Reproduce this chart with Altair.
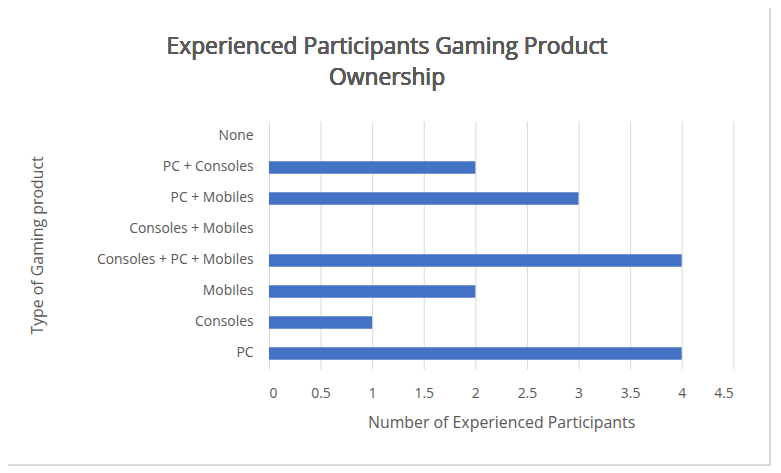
import altair as alt
import pandas as pd

categories = ["None", "PC + Consoles", "PC + Mobiles", "Consoles + Mobiles",
              "Consoles + PC + Mobiles", "Mobiles", "Consoles", "PC"]
counts = [0, 2, 3, 0, 4, 2, 1, 4]
title_lines = ["Experienced Participants Gaming Product", "Ownership"]

FONT = "Open Sans"
GREY = "#595959"

df = pd.DataFrame({"product": categories, "count": counts})

bars = alt.Chart(df).mark_bar(color="#4472C4").encode(
    x=alt.X("count:Q", scale=alt.Scale(domain=[0, 4.5], nice=False),
            axis=alt.Axis(title="Number of Experienced Participants", values=[0, 0.5, 1, 1.5, 2, 2.5, 3, 3.5, 4, 4.5],
                          format="~g", ticks=False, domain=False, gridColor="#d9d9d9",
                          labelPadding=18, titlePadding=14)),
    y=alt.Y("product:N", sort=categories,
            scale=alt.Scale(paddingInner=0.6, paddingOuter=0.3),
            axis=alt.Axis(title="Type of Gaming product", ticks=False, domain=False,
                          labelPadding=16, titleX=-225, titleY=125)),
)

t1 = alt.Chart(df).mark_text(fontSize=23, color=GREY, font=FONT).encode(
    x=alt.value(119), y=alt.value(-74), text=alt.value(title_lines[0]))
t2 = alt.Chart(df).mark_text(fontSize=23, color=GREY, font=FONT).encode(
    x=alt.value(119), y=alt.value(-43), text=alt.value(title_lines[1]))

border = alt.Chart(df).mark_rect(filled=False, stroke="#d9d9d9").encode(
    x=alt.value(-267), x2=alt.value(505), y=alt.value(-116), y2=alt.value(347)
)

chart = (bars + t1 + t2 + border).properties(
    width=468, height=250,
    autosize="none",
    padding={"left": 263, "top": 112, "right": 40, "bottom": 100},
).configure_view(stroke=None).configure_axis(
    labelFont=FONT, titleFont=FONT,
    labelFontSize=14, titleFontSize=16, labelColor=GREY, titleColor=GREY,
    titleFontWeight="normal",
)

chart.save("out.html", embed_options={"renderer": "svg", "actions": False})
